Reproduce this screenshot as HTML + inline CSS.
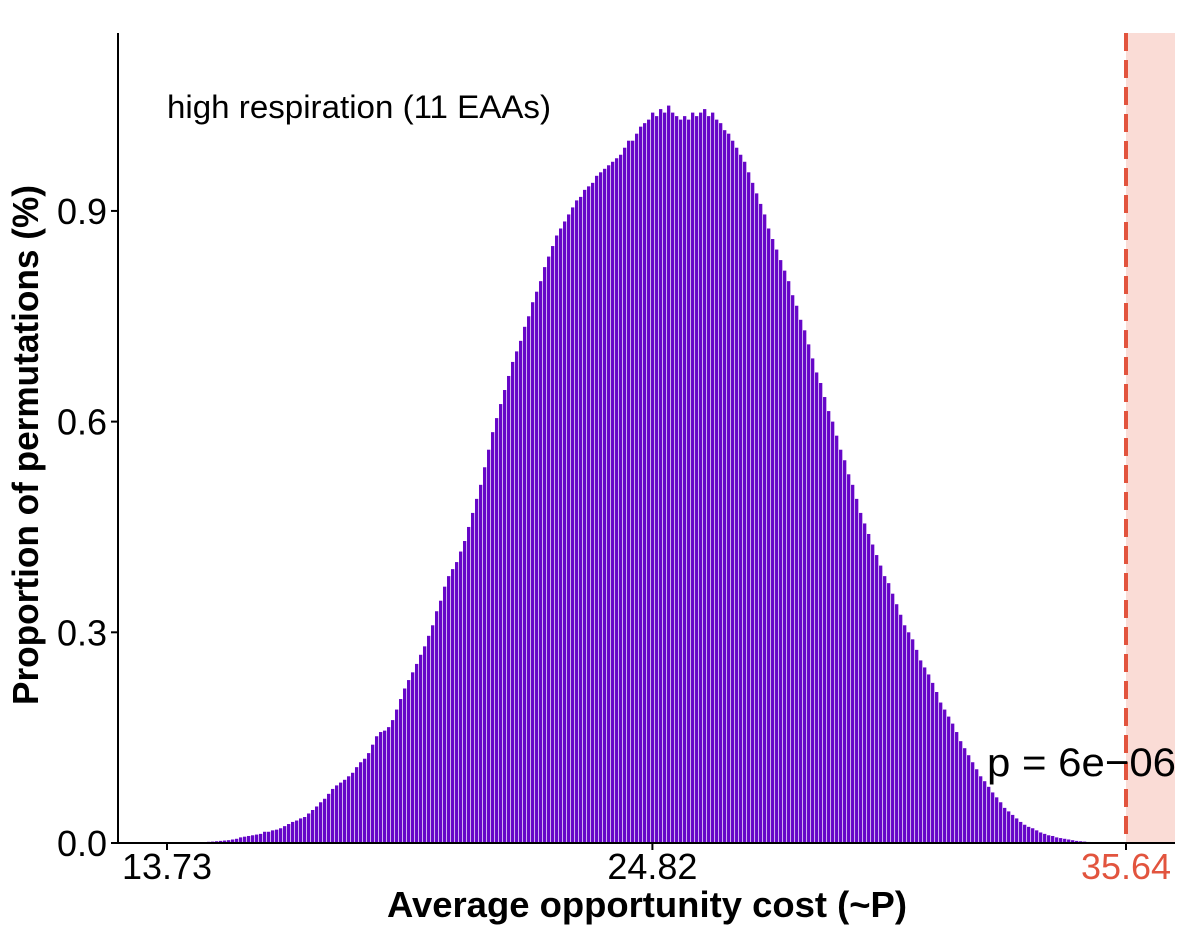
<!DOCTYPE html>
<html><head><meta charset="utf-8"><style>
body{margin:0;background:#fff}
svg{display:block;font-family:"Liberation Sans",Arial,sans-serif}
</style></head><body>
<svg id="chart" width="1188" height="946">
<rect x="1126" y="33" width="49" height="810" fill="#fadcd6"/>
<g id="bars"></g>
<line x1="1126" y1="33" x2="1126" y2="843" stroke="#e2543e" stroke-width="4" stroke-dasharray="18,9"/>
<line x1="118" y1="33" x2="118" y2="844" stroke="#000" stroke-width="2"/>
<line x1="117" y1="843" x2="1175" y2="843" stroke="#000" stroke-width="2"/>
<g id="yticks"></g>
<g id="xticks"></g>
<text x="647" y="917" font-size="36" font-weight="bold" text-anchor="middle" textLength="520" lengthAdjust="spacingAndGlyphs">Average opportunity cost (~P)</text>
<text transform="translate(38,445) rotate(-90)" font-size="36" font-weight="bold" text-anchor="middle" textLength="520" lengthAdjust="spacingAndGlyphs">Proportion of permutations (%)</text>
<text x="167" y="118" font-size="32" textLength="384" lengthAdjust="spacingAndGlyphs">high respiration (11 EAAs)</text>
<text x="1176" y="776" font-size="40" text-anchor="end" textLength="189" lengthAdjust="spacingAndGlyphs">p = 6e−06</text>
</svg>
<script>
const values=[0,0,0,0,0,
.0005,.0007,.001,.0012,.0014,.0017,.002,.0025,.003,.0035,.004,.005,.006,.008,.009,
.01,.011,.012,.013,.016,.016,.018,.019,.021,.024,.027,.03,.032,.035,.037,
.042,.047,.052,.058,.063,.07,.077,.082,.086,.09,.095,.1,.108,.115,.12,
.128,.14,.152,.158,.16,.165,.175,.19,.205,.22,.232,.243,.255,.268,.28,
.295,.31,.33,.345,.365,.38,.39,.4,.415,.43,.45,.47,.49,.51,.535,
.56,.585,.605,.625,.645,.665,.685,.7,.715,.735,.75,.77,.785,.8,.82,
.835,.85,.865,.875,.885,.895,.905,.915,.92,.93,.935,.94,.95,.955,.96,
.965,.97,.975,.98,.99,1.0,1.0,1.01,1.02,1.025,1.03,1.04,1.035,1.045,1.04,
1.05,1.04,1.035,1.03,1.035,1.03,1.04,1.035,1.04,1.045,1.035,1.04,1.03,1.025,1.015,
1.01,1.0,.99,.98,.97,.955,.94,.925,.91,.895,.875,.86,.845,.83,.815,
.8,.78,.765,.745,.73,.71,.69,.67,.655,.635,.615,.6,.58,.56,.545,
.525,.51,.49,.47,.455,.44,.425,.41,.395,.38,.37,.355,.34,.325,.31,
.3,.29,.275,.26,.25,.24,.228,.215,.2,.19,.18,.17,.158,.145,.135,
.125,.115,.105,.095,.088,.08,.072,.065,.058,.05,.045,.04,.035,.03,.026,
.023,.021,.018,.015,.013,.011,.01,.008,.007,.006,.005,.004,.003,.0025,.002,
.0015,.0012,.001,.0008,.0006,.0004,.0003,.0002,.0001,0];
const binStart=13.73;
const binWidth=0.09139;
const yTicks=[0,0.3,0.6,0.9];
const yTickLabels=["0.0","0.3","0.6","0.9"];
const xTicks=[13.73,24.82,35.64];
const xTickLabels=["13.73","24.82","35.64"];
const xScale=v=>167+(v-13.73)*43.77;
const yScale=v=>843-v*702.3;
const NS="http://www.w3.org/2000/svg";
const bars=document.getElementById('bars');
values.forEach((v,i)=>{
  const x0=xScale(binStart+i*binWidth);
  const w=xScale(binStart+(i+1)*binWidth)-x0;
  const r=document.createElementNS(NS,'rect');
  r.setAttribute('x',x0);
  r.setAttribute('y',yScale(v));
  r.setAttribute('width',Math.max(w-0.7,0.5));
  r.setAttribute('height',843-yScale(v));
  r.setAttribute('fill','#6606c8');
  
  
  bars.appendChild(r);
});
const yt=document.getElementById('yticks');
yTicks.forEach((t,i)=>{
  const y=yScale(t);
  const l=document.createElementNS(NS,'line');
  l.setAttribute('x1',111);l.setAttribute('x2',118);l.setAttribute('y1',y);l.setAttribute('y2',y);
  l.setAttribute('stroke','#000');l.setAttribute('stroke-width','2');
  
  
  yt.appendChild(l);
  const tx=document.createElementNS(NS,'text');
  tx.setAttribute('x',107);tx.setAttribute('y',y+13);
  tx.setAttribute('font-size','36');tx.setAttribute('text-anchor','end');
  tx.textContent=yTickLabels[i];
  
  
  yt.appendChild(tx);
});
const xt=document.getElementById('xticks');
xTicks.forEach((t,i)=>{
  const x=xScale(t);
  const l=document.createElementNS(NS,'line');
  l.setAttribute('x1',x);l.setAttribute('x2',x);l.setAttribute('y1',843);l.setAttribute('y2',850);
  l.setAttribute('stroke','#000');l.setAttribute('stroke-width','2');
  
  
  xt.appendChild(l);
  const tx=document.createElementNS(NS,'text');
  tx.setAttribute('x',x);tx.setAttribute('y',879);
  tx.setAttribute('font-size','36');tx.setAttribute('text-anchor','middle');
  tx.setAttribute('fill',i===2?'#e2543e':'#000');
  tx.textContent=xTickLabels[i];
  
  
  xt.appendChild(tx);
});
</script>
</body></html>
